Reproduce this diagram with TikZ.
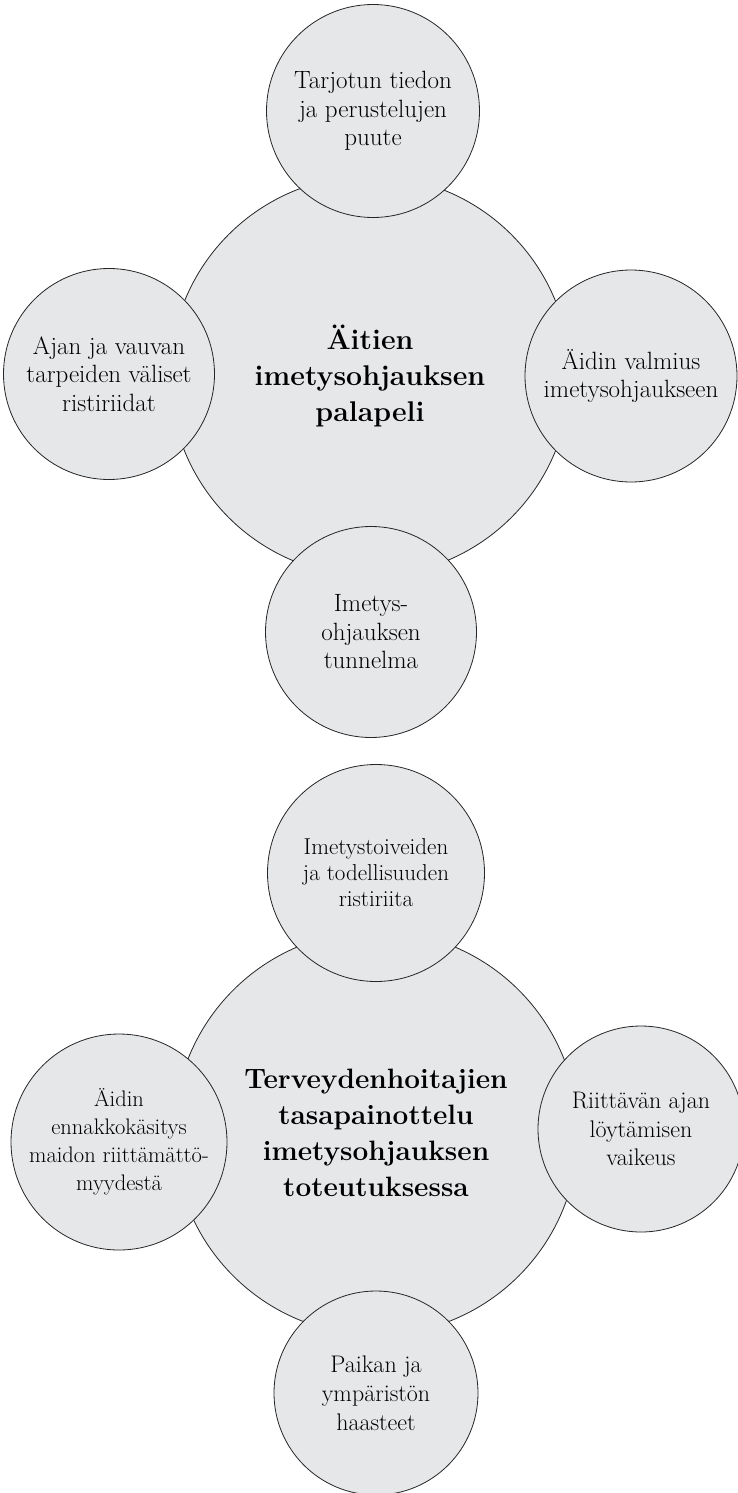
\documentclass[tikz,border=0pt]{standalone}
\usepackage{fontspec}
\tikzset{
  bigc/.style={circle, draw=black!85, line width=0.8pt, fill=circfill, inner sep=0pt, align=center, font=\fontsize{28.5}{36}\selectfont\bfseries},
  smallc/.style={circle, draw=black!85, line width=0.8pt, fill=circfill, inner sep=0pt, align=center, font=\fontsize{25}{28.5}\selectfont},
}
\definecolor{circfill}{RGB}{230,231,233}
\begin{document}
\begin{tikzpicture}[x=1pt,y=-1pt]
\useasboundingbox (0,0) rectangle (737,1493);
% top diagram
\node[bigc, minimum size=400pt] (a) at (370,376) {Äitien\\imetysohjauksen\\palapeli};
\node[smallc, minimum size=213pt] (a1) at (373,111) {Tarjotun tiedon\\ja perustelujen\\puute};
\node[smallc, minimum size=211pt] (a2) at (109,374) {Ajan ja vauvan\\tarpeiden väliset\\ristiriidat};
\node[smallc, minimum size=212pt] (a3) at (631,376) {Äidin valmius\\imetysohjaukseen};
\node[smallc, minimum size=211pt] (a4) at (371,632) {Imetys-\\ohjauksen\\tunnelma};
% bottom diagram
\node[bigc, minimum size=404pt, font=\fontsize{28}{36}\selectfont\bfseries] (b) at (376,1133) {Terveydenhoitajien\\tasapainottelu\\imetysohjauksen\\toteutuksessa};
\node[smallc, minimum size=217pt, font=\fontsize{23}{26}\selectfont] (b1) at (376,873) {Imetystoiveiden\\ja todellisuuden\\ristiriita};
\node[smallc, minimum size=216pt, font=\fontsize{22.5}{28}\selectfont] (b2) at (119,1142) {Äidin\\ennakkokäsitys\\maidon riittämättö-\\myydestä};
\node[smallc, minimum size=206pt, font=\fontsize{24}{28.5}\selectfont] (b3) at (641,1129) {Riittävän ajan\\löytämisen\\vaikeus};
\node[smallc, minimum size=204pt, font=\fontsize{24}{29}\selectfont] (b4) at (376,1393) {Paikan ja\\ympäristön\\haasteet};
\end{tikzpicture}
\end{document}
